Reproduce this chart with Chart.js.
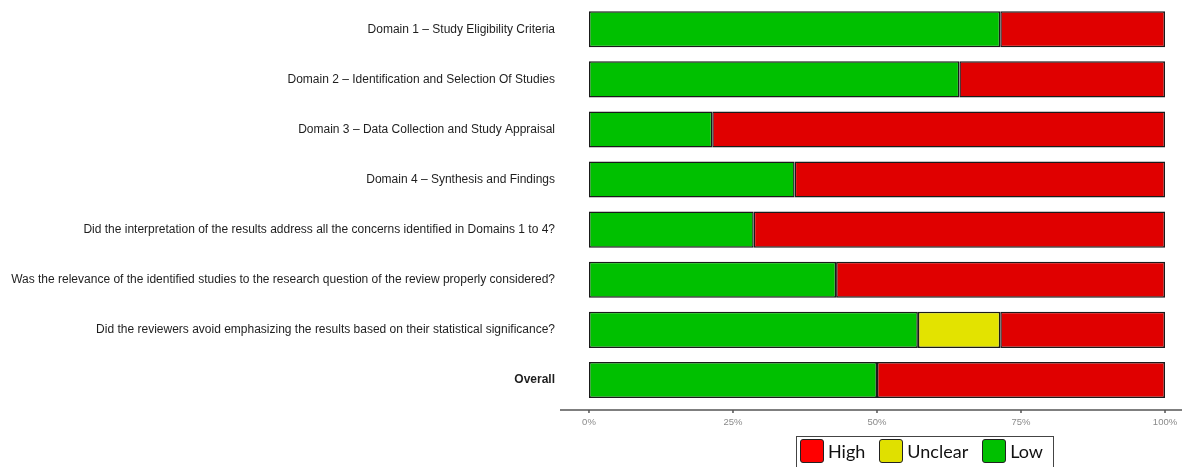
<!DOCTYPE html>
<html>
<head>
<meta charset="utf-8">
<script src="https://cdn.jsdelivr.net/npm/chart.js@4"></script>
<style>
    html, body { margin: 0; padding: 0; background: #fff; }
    #wrap { position: relative; width: 1192px; height: 467px; overflow: hidden; }
    #legend {
        position: absolute; left: 796px; top: 436px; width: 258px; height: 40px;
        border: 1.5px solid #444; box-sizing: border-box;
        font-family: Lato, "Open Sans", sans-serif; font-size: 18px; color: #111;
        display: flex; align-items: flex-start; padding: 2px 0 0 3px;
    }
    .item { display: flex; align-items: center; margin-right: 14px; }
    .swatch { width: 24px; height: 24px; border: 1.5px solid #222; border-radius: 3px; margin-right: 4px; box-sizing: border-box; }
</style>
</head>
<body>
<div id="wrap">
    <canvas id="chart" width="1192" height="467"></canvas>
    <div id="legend"></div>
</div>
<script>
const categories = [
    'Domain 1 \u2013 Study Eligibility Criteria',
    'Domain 2 \u2013 Identification and Selection Of Studies',
    'Domain 3 \u2013 Data Collection and Study Appraisal',
    'Domain 4 \u2013 Synthesis and Findings',
    'Did the interpretation of the results address all the concerns identified in Domains 1 to 4?',
    'Was the relevance of the identified studies to the research question of the review properly considered?',
    'Did the reviewers avoid emphasizing the results based on their statistical significance?',
    'Overall'
];
const lowValues = [71.4, 64.3, 21.4, 35.7, 28.6, 42.9, 57.1, 50];
const unclearValues = [0, 0, 0, 0, 0, 0, 14.3, 0];
const highValues = [28.6, 35.7, 78.6, 64.3, 71.4, 57.1, 28.6, 50];
const tickValues = [0, 25, 50, 75, 100];

const barColors = {low: '#00c000', unclear: '#e3e300', high: '#e00000'};
const legendItems = [
    {label: 'High', color: '#ff0000'},
    {label: 'Unclear', color: '#e0e000'},
    {label: 'Low', color: '#00c000'}
];

// axis line drawn a bit below the bars, like the original figure
const axisLinePlugin = {
    id: 'axisLine',
    afterDraw(chart) {
        const ctx = chart.ctx;
        const x = chart.scales.x;
        const y = chart.chartArea.bottom + 5;
        ctx.save();
        ctx.strokeStyle = '#555';
        ctx.lineWidth = 1.5;
        ctx.beginPath();
        ctx.moveTo(chart.chartArea.left, y);
        ctx.lineTo(chart.chartArea.right, y);
        for (const v of tickValues) {
            const px = x.getPixelForValue(v);
            ctx.moveTo(px, y);
            ctx.lineTo(px, y + 3);
        }
        ctx.stroke();
        ctx.restore();
    }
};

function makeDataset(label, values, color) {
    return {
        label: label,
        data: values.map(v => v || null),
        backgroundColor: color,
        borderColor: '#1a1a1a',
        borderWidth: 1.5,
        borderSkipped: false,
        barPercentage: 1,
        categoryPercentage: 0.72
    };
}

new Chart(document.getElementById('chart'), {
    type: 'bar',
    data: {
        labels: categories,
        datasets: [
            makeDataset('Low', lowValues, barColors.low),
            makeDataset('Unclear', unclearValues, barColors.unclear),
            makeDataset('High', highValues, barColors.high)
        ]
    },
    options: {
        indexAxis: 'y',
        responsive: false,
        animation: false,
        layout: {padding: {top: 0, right: 10, left: 0, bottom: 0}},
        plugins: {
            legend: {display: false},
            tooltip: {enabled: false}
        },
        scales: {
            x: {
                stacked: true,
                min: -5.03,
                max: 102.95,
                afterBuildTicks: (scale) => {
                    scale.ticks = tickValues.map(v => ({value: v}));
                },
                afterFit: (scale) => { scale.height = 62; },
                grid: {display: false},
                border: {display: false},
                ticks: {
                    padding: 4,
                    color: '#8a8a8a',
                    font: {family: 'Liberation Sans', size: 9.5},
                    callback: (v) => v + '%'
                }
            },
            y: {
                stacked: true,
                afterFit: (scale) => { scale.width = 560; },
                grid: {display: false},
                border: {display: false},
                ticks: {
                    padding: -3,
                    color: '#1e1e1e',
                    font: (ctx) => ({
                        family: 'Liberation Sans',
                        size: 12,
                        weight: ctx.index === categories.length - 1 ? 'bold' : 'normal'
                    })
                }
            }
        }
    },
    plugins: [axisLinePlugin]
});

const legendEl = document.getElementById('legend');
for (const item of legendItems) {
    const div = document.createElement('div');
    div.className = 'item';
    const sw = document.createElement('span');
    sw.className = 'swatch';
    sw.style.background = item.color;
    div.appendChild(sw);
    div.appendChild(document.createTextNode(item.label));
    legendEl.appendChild(div);
}
</script>
</body>
</html>
